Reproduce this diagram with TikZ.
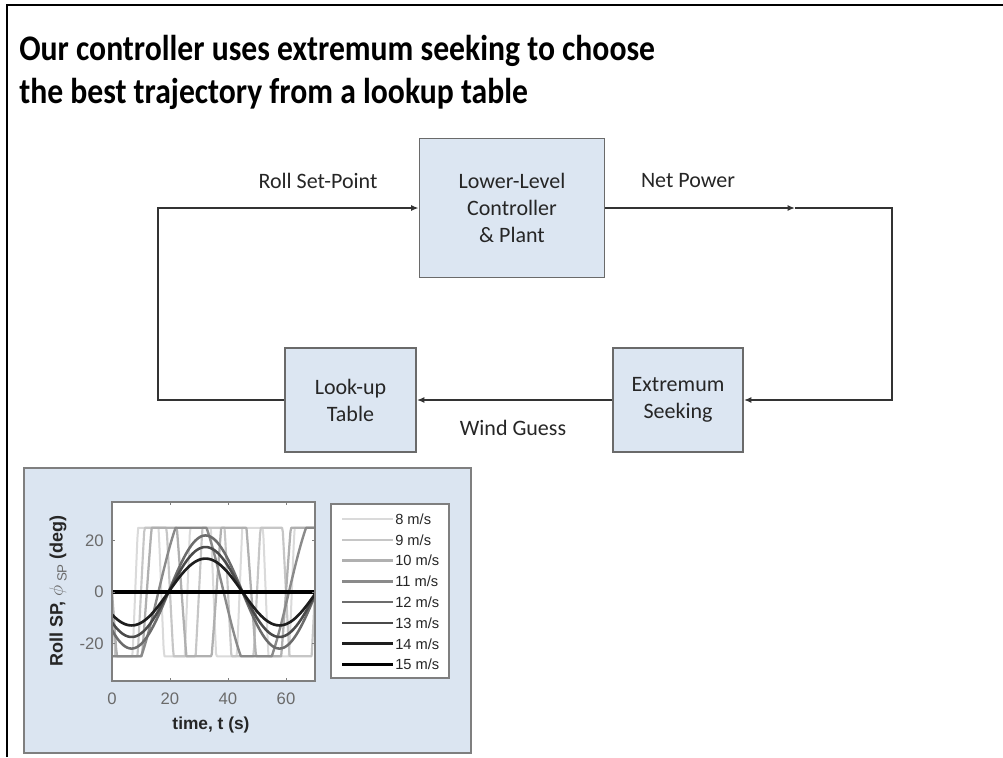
\documentclass[tikz,border=0pt]{standalone}
\usepackage{fontspec}
\setmainfont{Carlito}
\newfontfamily\arialf{Liberation Sans}
\usetikzlibrary{arrows.meta}
\definecolor{boxfill}{HTML}{DCE6F2}
\definecolor{boxedge}{HTML}{6A6A6A}
\definecolor{panelfill}{HTML}{DBE5F1}
\definecolor{panedge}{HTML}{7F7F7F}
\definecolor{txt}{HTML}{262626}
\definecolor{conncol}{HTML}{333333}
\definecolor{ticklab}{HTML}{6A6A6A}
\definecolor{c8}{HTML}{DADADA}
\definecolor{c9}{HTML}{C6C6C6}
\definecolor{c10}{HTML}{B0B0B0}
\definecolor{c11}{HTML}{8A8A8A}
\definecolor{c12}{HTML}{6C6C6C}
\definecolor{c13}{HTML}{4A4A4A}
\definecolor{c14}{HTML}{1E1E1E}
\definecolor{c15}{HTML}{000000}
\newcommand{\rollcurve}[5]{%
  \draw[#4, line width=#5, line join=round]
    plot[domain=0:70, samples=241]
    ({112+2.9*\x}, {592-2.57*max(-25,min(25,#1*sin((\x-#3)*(360/#2))))});}
\begin{document}
\begin{tikzpicture}[x=0.75pt,y=-0.75pt,
  blk/.style={draw=boxedge, fill=boxfill, line width=1.4pt, align=center,
    font=\fontsize{16.5pt}{20.3pt}\selectfont, text=txt, inner sep=0pt},
  conn/.style={draw=conncol, line width=1.1pt},
  tip/.style={-{Latex[length=5.5pt,width=4.5pt]}},
  lbl/.style={font=\fontsize{16.5pt}{20pt}\selectfont, text=txt, inner sep=0pt},
  title/.style={font=\fontsize{27pt}{32pt}\selectfont\bfseries, anchor=base west, inner sep=0pt},
  tickl/.style={font=\arialf\fontsize{12.5pt}{14pt}\selectfont, text=ticklab, inner sep=0pt},
  legl/.style={font=\arialf\fontsize{11pt}{12pt}\selectfont, text=txt, anchor=west, inner sep=0pt}]
\useasboundingbox (0,0) rectangle (1003,757);
\fill[white] (0,0) rectangle (1003,757);
% outer frame
\draw[line width=1.6pt, black] (7,757) -- (7,5) -- (1010,5);
% title
\node[title] (t1) at (19,60) {\scalebox{0.88}[1]{Our controller uses extremum seeking to choose}};
\node[title] (t2) at (19,103) {\scalebox{0.88}[1]{the best trajectory from a lookup table}};
% blocks
\node[blk, minimum width=185*0.75pt, minimum height=139*0.75pt] (llc) at (512,208) {Lower-Level\\Controller\\\& Plant};
\node[blk, minimum width=131*0.75pt, minimum height=104*0.75pt] (lut) at (350.5,400) {Look-up\\Table};
\node[blk, minimum width=130*0.75pt, minimum height=104*0.75pt] (es) at (678,400) {Extremum\\Seeking};
% connector corners
\coordinate (cLB) at (158,400);
\coordinate (cLT) at (158,208);
\coordinate (cM) at (795,208);
\coordinate (cRT) at (892,208);
\coordinate (cRB) at (892,400);
\draw[conn, tip] (lut.west) -- (cLB) -- (cLT) -- (llc.west);
\draw[conn, tip] (llc.east) -- (cM);
\draw[conn, tip] (cM) -- (cRT) -- (cRB) -- (es.east);
\draw[conn, tip] (es.west) -- (lut.east);
% labels
\node[lbl] (lrs) at (318,181) {Roll Set-Point};
\node[lbl] (lnp) at (688,181) {Net Power};
\node[lbl] (lwg) at (513,428) {Wind Guess};
% plot panel
\draw[panedge, fill=panelfill, line width=1.3pt] (24,468) rectangle (471,753);
\fill[white] (112,502) rectangle (315,681);
\begin{scope}
\clip (112,502) rectangle (315,681);
\rollcurve{80}{18}{8}{c8}{1.5pt}
\rollcurve{70}{20}{10}{c9}{1.6pt}
\rollcurve{60}{24}{12}{c10}{1.7pt}
\rollcurve{34}{45}{16}{c11}{1.8pt}
\rollcurve{22}{51}{19.5}{c12}{1.9pt}
\rollcurve{17.5}{51}{19.5}{c13}{1.9pt}
\rollcurve{13}{51}{19.5}{c14}{2pt}
\rollcurve{0}{51}{19.5}{c15}{2.3pt}
\end{scope}
\draw[panedge, line width=0.8pt] (112,502) rectangle (315,681);
\foreach \t in {20,40,60} {
  \draw[panedge, line width=0.6pt] ({112+2.9*\t},681) -- ++(0,-3);
  \draw[panedge, line width=0.6pt] ({112+2.9*\t},502) -- ++(0,3);
}
\foreach \v in {20,0,-20} {
  \draw[panedge, line width=0.6pt] (112,{592-2.57*\v}) -- ++(3,0);
  \draw[panedge, line width=0.6pt] (315,{592-2.57*\v}) -- ++(-3,0);
}
\node[tickl] (x0) at (112,699) {0};
\node[tickl] (x20) at (170,699) {20};
\node[tickl] (x40) at (228,699) {40};
\node[tickl] (x60) at (286,699) {60};
\node[tickl, anchor=east] (y20) at (104,540.6) {20};
\node[tickl, anchor=east] (y0) at (104,592) {0};
\node[tickl, anchor=east] (ym20) at (104,643.4) {-20};
\node[font=\arialf\bfseries\fontsize{13pt}{15pt}\selectfont, text=txt, inner sep=0pt] (xl) at (211,725) {time, t (s)};
\node[font=\arialf\fontsize{13.5pt}{15pt}\selectfont, text=txt, inner sep=0pt, rotate=90] (yl) at (58,591)
  {\textbf{Roll SP,} \textcolor{ticklab}{$\phi$\,\raisebox{-3pt}{\fontsize{10pt}{11pt}\selectfont SP}} \textbf{(deg)}};
% legend
\draw[panedge, fill=white, line width=0.8pt] (331,504) rectangle (449,678);
\foreach \i/\c/\w/\s in {0/c8/1.5pt/8, 1/c9/1.6pt/9, 2/c10/1.7pt/10, 3/c11/1.8pt/11, 4/c12/1.9pt/12, 5/c13/1.9pt/13, 6/c14/2pt/14, 7/c15/2.3pt/15} {
  \draw[\c, line width=\w] (342,{519+20.8*\i}) -- (393,{519+20.8*\i});
  \node[legl] (leg\i) at (395,{519+20.8*\i}) {\s{} m/s};
}
\end{tikzpicture}
\end{document}
